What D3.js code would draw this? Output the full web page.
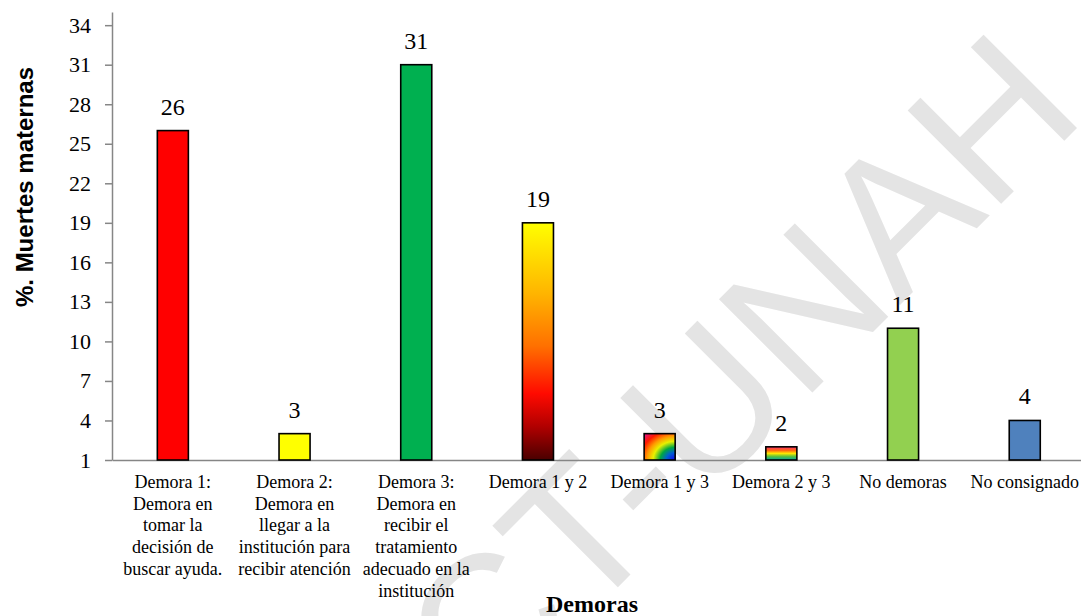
<!DOCTYPE html>
<html>
<head>
<meta charset="utf-8">
<script src="https://cdn.jsdelivr.net/npm/d3@7/dist/d3.min.js"></script>
<style>
  html, body { margin: 0; padding: 0; background: #ffffff; }
  svg { display: block; }
  .serif { font-family: "Liberation Serif", "Times New Roman", serif; }
</style>
</head>
<body>
<svg id="chart" width="1081" height="616"></svg>
<script>
// Categories (each entry is a list of wrapped label lines)
const categories = [
  ["Demora 1:", "Demora en", "tomar la", "decisión de", "buscar ayuda."],
  ["Demora 2:", "Demora en", "llegar a la", "institución para", "recibir atención"],
  ["Demora 3:", "Demora en", "recibir el", "tratamiento", "adecuado en la", "institución"],
  ["Demora 1 y 2"],
  ["Demora 1 y 3"],
  ["Demora 2 y 3"],
  ["No demoras"],
  ["No consignado"]
];
const categoryKeys = categories.map(c => c.join(" "));
const values = [26, 3, 31, 19, 3, 2, 11, 4];
const fills = ["#FF0000", "#FFFF00", "#00B050", "url(#gradWarm)", "url(#gradRainbowRadial)", "url(#gradRainbowStripes)", "#92D050", "#4F81BD"];
const yTicks = [1, 4, 7, 10, 13, 16, 19, 22, 25, 28, 31, 34];
const yTitle = "%. Muertes maternas";
const xTitle = "Demoras";
const watermark = "CT-UNAH";

const svg = d3.select("#chart");
const plotLeft = 112, plotBase = 460, plotTop = 12;
const step = 121.7;

// Gradients for the combined-delay bars
const defs = svg.append("defs");
function linear(id, stops) {
  const g = defs.append("linearGradient").attr("id", id)
    .attr("x1", 0).attr("y1", 0).attr("x2", 0).attr("y2", 1);
  stops.forEach(s => g.append("stop").attr("offset", s[0]).attr("stop-color", s[1]));
}
linear("gradWarm", [[0, "#FFFF00"], [0.3, "#FFB400"], [0.52, "#FF7000"], [0.72, "#FF0A00"], [0.86, "#B00000"], [1, "#4A0000"]]);
linear("gradRainbowStripes", [[0, "#FF2F6E"], [0.28, "#FF6A10"], [0.5, "#FFE800"], [0.72, "#5FC338"], [1, "#00A3A3"]]);
const rg = defs.append("radialGradient").attr("id", "gradRainbowRadial")
  .attr("cx", 1).attr("cy", 1).attr("r", 1.42).attr("fx", 1).attr("fy", 1);
[[0, "#1400F0"], [0.2, "#0060D0"], [0.34, "#00A840"], [0.5, "#E8F000"], [0.64, "#FF9A00"], [0.8, "#FF1A00"], [1, "#E0109A"]]
  .forEach(s => rg.append("stop").attr("offset", s[0]).attr("stop-color", s[1]));

// Background watermark text
svg.append("text")
  .attr("transform", "translate(1088,117) rotate(-45)")
  .attr("text-anchor", "end")
  .style("font-family", "'Liberation Sans', Arial, sans-serif")
  .style("font-size", "192px")
  .attr("fill", "#E4E4E4")
  .text(watermark);

// Scales
const x = d3.scaleBand()
  .domain(categoryKeys)
  .range([plotLeft, plotLeft + step * categories.length])
  .paddingInner(0.745)
  .paddingOuter(0.3725);
const y = d3.scaleLinear().domain([1, 35]).range([plotBase, plotTop]);

// Y axis
const yAxis = svg.append("g")
  .attr("transform", `translate(${plotLeft},0)`)
  .call(d3.axisLeft(y).tickValues(yTicks).tickSize(7).tickSizeOuter(0).tickPadding(14));
yAxis.select(".domain").attr("stroke", "#868686").attr("stroke-width", 1.5);
yAxis.selectAll(".tick line").attr("stroke", "#868686").attr("stroke-width", 1.5);
yAxis.selectAll(".tick text")
  .classed("serif", true)
  .style("font-family", "'Liberation Serif', 'Times New Roman', serif")
  .style("font-size", "22px").attr("fill", "#000");

// X axis (line only; labels drawn as wrapped text below)
const xAxis = svg.append("g")
  .attr("transform", `translate(0,${plotBase})`)
  .call(d3.axisBottom(x).tickSize(0).tickSizeOuter(0).tickFormat(""));
xAxis.select(".domain").attr("stroke", "#868686").attr("stroke-width", 1.5);

// Bars
svg.append("g").selectAll("rect")
  .data(values)
  .join("rect")
  .attr("x", (d, i) => x(categoryKeys[i]))
  .attr("y", d => y(d))
  .attr("width", x.bandwidth())
  .attr("height", d => y(1) - y(d))
  .attr("fill", (d, i) => fills[i])
  .attr("stroke", "#000")
  .attr("stroke-width", 1.6);

// Value labels
svg.append("g").selectAll("text")
  .data(values)
  .join("text")
  .attr("x", (d, i) => x(categoryKeys[i]) + x.bandwidth() / 2)
  .attr("y", d => y(d) - 16)
  .attr("text-anchor", "middle")
  .style("font-family", "'Liberation Serif', 'Times New Roman', serif")
  .style("font-size", "24px")
  .attr("fill", "#000")
  .text(d => d);

// Category labels
const catG = svg.append("g")
  .style("font-family", "'Liberation Serif', 'Times New Roman', serif")
  .style("font-size", "18px")
  .attr("fill", "#000")
  .attr("text-anchor", "middle");
categories.forEach((lines, i) => {
  const cx = x(categoryKeys[i]) + x.bandwidth() / 2;
  const t = catG.append("text").attr("x", cx).attr("y", 488);
  lines.forEach((ln, j) => {
    t.append("tspan")
      .attr("x", cx)
      .attr("dy", j === 0 ? 0 : 21.7)
      .text(ln);
  });
});

// Axis titles
svg.append("text")
  .attr("x", 592).attr("y", 612)
  .attr("text-anchor", "middle")
  .style("font-family", "'Liberation Serif', 'Times New Roman', serif")
  .style("font-weight", "bold")
  .style("font-size", "24px")
  .attr("fill", "#000")
  .text(xTitle);

svg.append("text")
  .attr("transform", "translate(33,187) rotate(-90)")
  .attr("text-anchor", "middle")
  .style("font-family", "'Liberation Sans', Arial, sans-serif")
  .style("font-weight", "bold")
  .style("font-size", "24px")
  .attr("fill", "#000")
  .text(yTitle);
</script>
</body>
</html>
